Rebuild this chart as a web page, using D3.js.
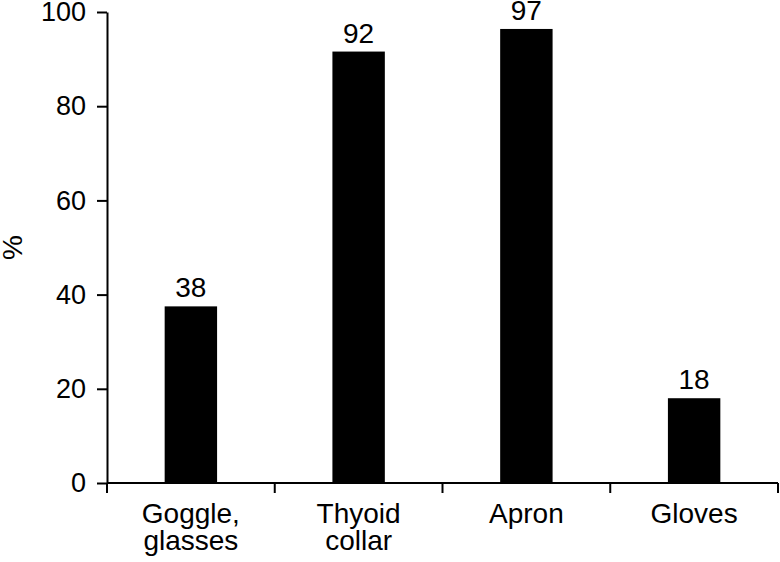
<!DOCTYPE html>
<meta charset="UTF-8">
<style>
  body { margin: 0; background: #fff; }
  svg text { font-family: "Liberation Sans", Arial, sans-serif; font-size: 28px; fill: #000; }
  .axis path, .axis line { stroke: #000; stroke-width: 2px; }
  .bar { fill: #000; }
</style>
<body>
<script src="https://cdn.jsdelivr.net/npm/d3@7"></script>
<script>
  // data
  var categories = ["Goggle, glasses", "Thyoid collar", "Apron", "Gloves"];
  var catLines = [["Goggle,", "glasses"], ["Thyoid", "collar"], ["Apron"], ["Gloves"]];
  var values = [37.5, 91.6, 96.4, 18];
  var valueLabels = ["38", "92", "97", "18"];
  var yTicks = [0, 20, 40, 60, 80, 100];

  var width = 780, height = 562;
  var plot = { left: 107, right: 778, top: 12, bottom: 483 };

  var svg = d3.select("body").append("svg")
    .attr("width", width)
    .attr("height", height);

  var x = d3.scaleBand()
    .domain(categories)
    .range([plot.left, plot.right])
    .padding(0);

  var y = d3.scaleLinear()
    .domain([0, 100])
    .range([plot.bottom, plot.top]);

  var barW = x.bandwidth() * 0.3125;

  // bars
  svg.selectAll("rect.bar")
    .data(categories)
    .enter().append("rect")
    .attr("class", "bar")
    .attr("x", function(d) { return x(d) + x.bandwidth() / 2 - barW / 2; })
    .attr("width", barW)
    .attr("y", function(d, i) { return y(values[i]); })
    .attr("height", function(d, i) { return y(0) - y(values[i]); });

  // value labels on top
  svg.selectAll("text.val")
    .data(categories)
    .enter().append("text")
    .attr("class", "val")
    .attr("text-anchor", "middle")
    .attr("x", function(d) { return x(d) + x.bandwidth() / 2; })
    .attr("y", function(d, i) { return y(values[i]) - 9; })
    .text(function(d, i) { return valueLabels[i]; });

  // y axis
  var yAxis = svg.append("g")
    .attr("class", "axis")
    .attr("transform", "translate(" + plot.left + ",0)")
    .call(d3.axisLeft(y).tickValues(yTicks).tickSize(10).tickPadding(11).tickSizeOuter(0));
  yAxis.selectAll("text").style("font-size", "27px").style("font-family", "Liberation Sans, Arial, sans-serif");

  // x axis line with ticks at category boundaries
  var xAxis = svg.append("g").attr("class", "axis");
  xAxis.append("line")
    .attr("x1", plot.left).attr("x2", plot.right)
    .attr("y1", y(0)).attr("y2", y(0));
  var bounds = categories.map(function(d) { return x(d); }).concat([plot.right]);
  xAxis.selectAll("line.tick")
    .data(bounds)
    .enter().append("line")
    .attr("class", "tick")
    .attr("x1", function(d) { return d; }).attr("x2", function(d) { return d; })
    .attr("y1", y(0)).attr("y2", y(0) + 10);

  // category labels
  var lab = svg.selectAll("text.cat")
    .data(categories)
    .enter().append("text")
    .attr("class", "cat")
    .attr("text-anchor", "middle")
    .attr("x", function(d) { return x(d) + x.bandwidth() / 2; })
    .attr("y", y(0) + 40);
  lab.selectAll("tspan")
    .data(function(d, i) { return catLines[i]; })
    .enter().append("tspan")
    .attr("x", function() { return this.parentNode.getAttribute("x"); })
    .attr("dy", function(d, i) { return i === 0 ? 0 : 27; })
    .text(function(d) { return d; });

  // y title
  svg.append("text")
    .attr("text-anchor", "middle")
    .attr("transform", "translate(22," + y(50) + ") rotate(-90)")
    .text("%");
</script>
</body>
